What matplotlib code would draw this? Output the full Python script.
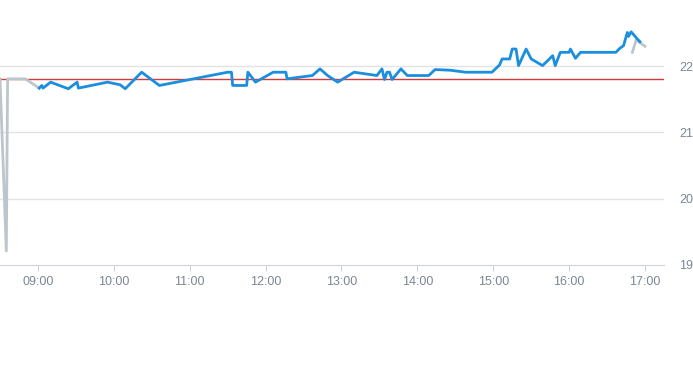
import sys
import numpy as np
import matplotlib as mpl
mpl.use("Agg")
import matplotlib.pyplot as plt
import matplotlib.dates as mdates
import pandas as pd

DAY = "2024-01-01 "

# main series (blue)
blue_times = ["09:01", "09:03", "09:04", "09:10", "09:24", "09:31", "09:32", "09:55",
              "10:05", "10:09", "10:22", "10:36", "11:30", "11:33", "11:34", "11:45",
              "11:46", "11:52", "12:06", "12:16", "12:17", "12:37", "12:43", "12:49",
              "12:57", "13:10", "13:28", "13:32", "13:34", "13:36", "13:38", "13:40",
              "13:47", "13:52", "14:09", "14:14", "14:26", "14:38", "14:59", "15:05",
              "15:07", "15:13", "15:15", "15:18", "15:20", "15:26", "15:30", "15:39",
              "15:47", "15:49", "15:53", "16:00", "16:01", "16:05", "16:09", "16:37",
              "16:40", "16:43", "16:46", "16:47", "16:49", "16:54", "16:56"]
blue_values = [21.67, 21.71, 21.67, 21.76, 21.66, 21.76, 21.67, 21.76,
               21.72, 21.66, 21.91, 21.71, 21.91, 21.91, 21.71, 21.71,
               21.91, 21.76, 21.91, 21.91, 21.81, 21.86, 21.96, 21.86,
               21.76, 21.91, 21.86, 21.96, 21.80, 21.91, 21.91, 21.80,
               21.96, 21.86, 21.86, 21.95, 21.94, 21.91, 21.91, 22.02,
               22.11, 22.11, 22.26, 22.26, 22.01, 22.26, 22.11, 22.01,
               22.16, 22.01, 22.21, 22.21, 22.26, 22.12, 22.21, 22.21,
               22.27, 22.31, 22.51, 22.45, 22.52, 22.41, 22.37]

# secondary series (grey), split in two pieces
grey_a_times = ["08:30", "08:35", "08:36", "08:50", "09:01"]
grey_a_values = [21.81, 19.21, 21.81, 21.81, 21.67]
grey_b_times = ["16:50", "16:53", "17:00"]
grey_b_values = [22.21, 22.40, 22.30]

ref_value = 21.81
y_ticks = [19, 20, 21, 22]
x_hours = ["09:00", "10:00", "11:00", "12:00", "13:00", "14:00", "15:00", "16:00", "17:00"]


def t(lst):
  return pd.to_datetime([DAY + s for s in lst])


def main():
  plt.rcParams['font.family'] = ['Liberation Sans', 'DejaVu Sans']
  fig = plt.figure(figsize=(6.93, 3.65), dpi=100)
  ax = fig.add_axes([0.0, 0.274, 664 / 693, 0.726])

  for v in y_ticks[1:]:
    ax.axhline(v, color="#e3e3e3", linewidth=1, zorder=1)
  ax.axhline(ref_value, color="#d23b3b", linewidth=1, zorder=2)

  ax.plot(t(grey_a_times), grey_a_values, color="#bcc6cc", linewidth=2, zorder=3)
  ax.plot(t(grey_b_times), grey_b_values, color="#bcc6cc", linewidth=2, zorder=3)
  ax.plot(t(blue_times), blue_values, color="#1b8fdd", linewidth=2, zorder=4)

  ax.set_xlim(pd.Timestamp(DAY + "08:30"), pd.Timestamp(DAY + "17:15"))
  ax.set_ylim(19, 23)
  ax.set_xticks(t(x_hours))
  ax.xaxis.set_major_formatter(mdates.DateFormatter("%H:%M"))
  ax.set_yticks(y_ticks)
  ax.yaxis.tick_right()

  for s in ["top", "left", "right"]:
    ax.spines[s].set_visible(False)
  ax.spines["bottom"].set_color("#cdd3d8")
  ax.tick_params(axis="x", length=4, color="#cdd3d8", pad=4, labelsize=9, labelcolor="#7b8794")
  ax.tick_params(axis="y", length=0, pad=11, labelsize=9, labelcolor="#7b8794")

  fig.savefig("out.png", dpi=100)


if __name__ == "__main__":
  sys.exit(main())
